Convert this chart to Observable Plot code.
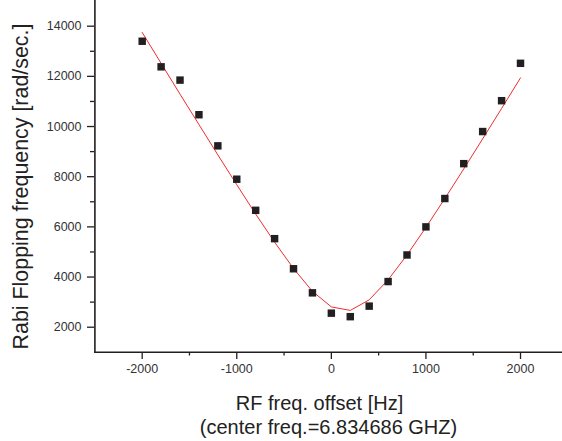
<!DOCTYPE html>
<html><head><meta charset="utf-8">
<script src="https://cdn.jsdelivr.net/npm/d3@7"></script>
<script src="https://cdn.jsdelivr.net/npm/@observablehq/plot@0.6"></script>
<style>html,body{margin:0;padding:0;background:#fff;} svg{display:block;}</style>
</head><body><div id="chart"></div>
<script>
const offsets  = [-2000,-1800,-1600,-1400,-1200,-1000,-800,-600,-400,-200,0,200,400,600,800,1000,1200,1400,1600,1800,2000];
const measured = [13400,12380,11850,10470,9230,7900,6660,5530,4330,3370,2560,2420,2840,3820,4880,6000,7130,8520,9800,11030,12520];
const fitted   = [13750,12520,11290,10080,8870,7680,6510,5390,4340,3430,2810,2670,3090,3890,4880,5980,7130,8310,9510,10720,11940];
const xMajorTicks = [-2000,-1000,0,1000,2000];
const xMinorTicks = [-1500,-500,500,1500];
const yMajorTicks = [2000,4000,6000,8000,10000,12000,14000];
const yMinorTicks = [3000,5000,7000,9000,11000,13000];
const xLabelLines = ["RF freq. offset [Hz]", "(center freq.=6.834686 GHZ)"];
const yLabel = "Rabi Flopping frequency [rad/sec.]";

const data = offsets.map((x, i) => ({x, measured: measured[i], fitted: fitted[i]}));
const ink = "#231f20";
const titleInk = "#222";

const chart = Plot.plot({
  width: 562,
  height: 441,
  marginLeft: 94,
  marginTop: 0,
  marginRight: 0,
  marginBottom: 89,
  style: {fontFamily: "'Liberation Sans', Arial, sans-serif", background: "#fff"},
  x: {domain: [-2500, 2500], range: [94.4, 567.3]},
  y: {domain: [1000, 15000], range: [351.8, 0.6]},
  marks: [
    Plot.axisX({ticks: xMinorTicks, tickSize: 3.5, text: null, label: null, stroke: ink, strokeWidth: 1.3}),
    Plot.axisX({ticks: xMajorTicks, tickSize: 7, tickPadding: 5, tickFormat: d => String(d), fontSize: 12.5, fill: "#333", stroke: ink, strokeWidth: 1.3, label: null}),
    Plot.axisY({ticks: yMinorTicks, tickSize: 4, text: null, label: null, stroke: ink, strokeWidth: 1.3}),
    Plot.axisY({ticks: yMajorTicks, tickSize: 7, tickPadding: 6, tickFormat: d => String(d), fontSize: 12.5, fill: "#333", stroke: ink, strokeWidth: 1.3, label: null}),
    Plot.ruleY([1000], {stroke: ink, strokeWidth: 1.6}),
    Plot.ruleX([-2500], {stroke: ink, strokeWidth: 1.6}),
    Plot.line(data, {x: "x", y: "fitted", stroke: "#ee2d2d", strokeWidth: 1}),
    Plot.dot(data, {x: "x", y: "measured", symbol: "square", r: 4.2, fill: ink, stroke: null}),
    Plot.text([xLabelLines[0]], {text: d => d, frameAnchor: "bottom", lineAnchor: "bottom", dy: 57, dx: -9, fontSize: 20, fill: titleInk}),
    Plot.text([xLabelLines[1]], {text: d => d, frameAnchor: "bottom", lineAnchor: "bottom", dy: 81, fontSize: 20, fill: titleInk}),
    Plot.text([yLabel], {text: d => d, frameAnchor: "left", rotate: -90, textAnchor: "middle", lineAnchor: "bottom", dx: -67, dy: 10, fontSize: 21.4, fill: titleInk})
  ]
});
document.getElementById("chart").appendChild(chart);
</script>
</body></html>
